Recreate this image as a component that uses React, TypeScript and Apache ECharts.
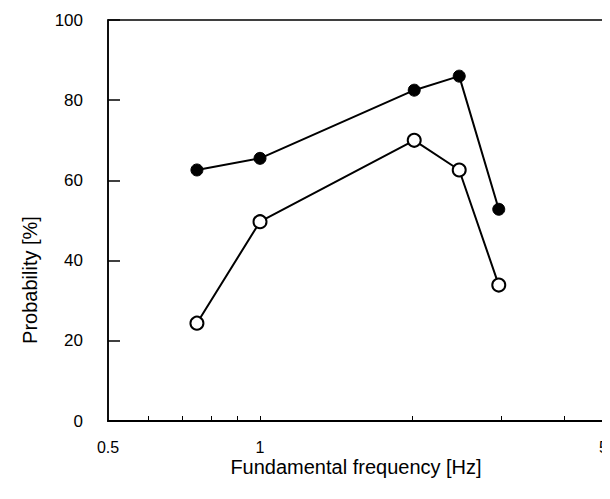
import React, { useEffect, useRef } from "react";
import * as echarts from "echarts";

const frequency = [0.75, 1.0, 2.02, 2.48, 2.97];
const filledProb = [62.6, 65.5, 82.5, 86.0, 52.8];
const openProb = [24.4, 49.7, 70.0, 62.6, 33.9];
const xTickValues = [0.6, 0.7, 0.8, 0.9, 1, 2, 3, 4];
const xLabelValues = [0.5, 1, 5];
const yTicks = [0, 20, 40, 60, 80, 100];

const FONT = "'Liberation Sans', Arial, Helvetica, sans-serif";

export default function App() {
  const ref = useRef<HTMLDivElement>(null);
  useEffect(() => {
    if (!ref.current) return;
    const chart = echarts.init(ref.current, null, { renderer: "svg" });
    chart.setOption({
      animation: false,
      backgroundColor: "#fff",
      grid: {
        left: 108,
        top: 20,
        width: 505,
        height: 401,
        outerBoundsMode: "none",
        containLabel: false,
        show: true,
        borderColor: "#000",
        borderWidth: 1.5,
      },
      xAxis: {
        type: "log",
        logBase: 10,
        min: 0.5,
        max: 5,
        axisLine: { show: true, lineStyle: { color: "#000", width: 2 } },
        axisTick: {
          show: true,
          inside: true,
          length: 5,
          customValues: xTickValues,
          lineStyle: { color: "#000", width: 1 },
        },
        minorTick: { show: false },
        splitLine: { show: false },
        axisLabel: {
          customValues: xLabelValues,
          color: "#000",
          fontFamily: FONT,
          fontSize: 16,
          margin: 18,
          alignMaxLabel: "right",
          formatter: (v: number) => (v >= 5 ? "{edge|" + v + "}" : String(v)),
          rich: {
            edge: {
              color: "#000",
              fontFamily: FONT,
              fontSize: 16,
              padding: [0, 5, 0, 0],
            },
          },
        },
      },
      yAxis: {
        type: "value",
        min: 0,
        max: 100,
        interval: 20,
        axisLine: { show: true, lineStyle: { color: "#000", width: 1.5 } },
        axisTick: {
          show: true,
          inside: true,
          length: 12,
          customValues: yTicks,
          lineStyle: { color: "#000", width: 1.5 },
        },
        splitLine: { show: false },
        axisLabel: {
          color: "#000",
          fontFamily: FONT,
          fontSize: 17,
          margin: 25,
        },
      },
      graphic: [
        {
          type: "text",
          x: 30,
          y: 280,
          rotation: Math.PI / 2,
          style: {
            text: "Probability [%]",
            fill: "#000",
            font: `20px ${FONT}`,
            align: "center",
            verticalAlign: "middle",
          },
        },
        {
          type: "text",
          x: 356,
          y: 467,
          style: {
            text: "Fundamental frequency [Hz]",
            fill: "#000",
            font: `20px ${FONT}`,
            align: "center",
            verticalAlign: "middle",
          },
        },
      ],
      series: [
        {
          type: "line",
          data: frequency.map((f, i) => [f, filledProb[i]]),
          symbol: "circle",
          symbolSize: 12,
          lineStyle: { color: "#000", width: 2 },
          itemStyle: { color: "#000", borderColor: "#000", borderWidth: 1 },
          z: 3,
        },
        {
          type: "line",
          data: frequency.map((f, i) => [f, openProb[i]]),
          symbol: "circle",
          symbolSize: 13,
          lineStyle: { color: "#000", width: 2 },
          itemStyle: { color: "#fff", borderColor: "#000", borderWidth: 2 },
          z: 3,
        },
      ],
    });
    return () => chart.dispose();
  }, []);
  return <div ref={ref} style={{ width: 610, height: 499, margin: -8 }} />;
}
